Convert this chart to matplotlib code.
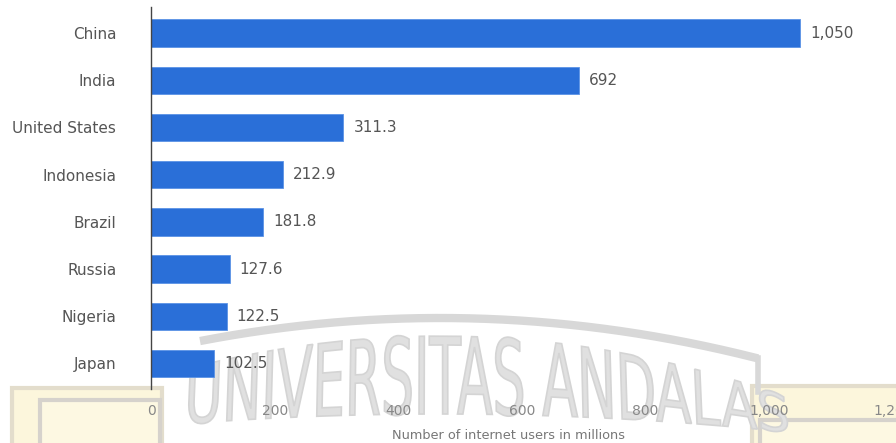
import numpy as np
import matplotlib
matplotlib.use("Agg")
import matplotlib.pyplot as plt
from matplotlib.textpath import TextPath
from matplotlib.font_manager import FontProperties
from matplotlib.patches import PathPatch, Rectangle
from matplotlib.path import Path

countries = ["China", "India", "United States", "Indonesia", "Brazil", "Russia", "Nigeria", "Japan"]
users = [1050, 692, 311.3, 212.9, 181.8, 127.6, 122.5, 102.5]
value_labels = ["1,050", "692", "311.3", "212.9", "181.8", "127.6", "122.5", "102.5"]
xticks = [0, 200, 400, 600, 800, 1000, 1200]
xtick_labels = ["0", "200", "400", "600", "800", "1,000", "1,200"]
xlabel = "Number of internet users in millions"
watermark = "UNIVERSITAS ANDALAS"

W, H = 896, 443
fig = plt.figure(figsize=(W / 100, H / 100), dpi=100)
fig.patch.set_facecolor("white")

def px(x, y):
    return x / W, 1 - y / H

# ---- watermark (behind axes) ----
for (x0, y0, w, h, fc, ec, lw) in [
    (12, 388, 150, 60, "#fcf6dc", "#e3ddcc", 3),
    (40, 400, 120, 50, "#fdf8e2", "#d6d2cc", 3),
    (752, 386, 160, 64, "#fcf6dc", "#e3ddcc", 3),
    (760, 420, 145, 30, "#fdf8e2", "#d6d2cc", 3),
]:
    fig.patches.append(Rectangle(px(x0, y0 + h), w / W, h / H, transform=fig.transFigure,
                                 facecolor=fc, edgecolor=ec, lw=lw, zorder=0))

peak = 440.0
k_top = 5e-4
k_base = 1.5e-4
# arc band above letters
xs = np.linspace(200, 758, 200)
ys = 318 + k_top * (xs - peak) ** 2 * 0.8
fig.lines.append(plt.Line2D(xs / W, 1 - ys / H, transform=fig.transFigure,
                            color="#d8d8d8", lw=6, zorder=0.5, solid_capstyle="butt"))
fig.lines.append(plt.Line2D([758 / W, 758 / W], [1 - ys[-1] / H, 1 - 392 / H],
                            transform=fig.transFigure, color="#d8d8d8", lw=4, zorder=0.5))

# warped watermark text
tp = TextPath((0, 0), watermark, size=1, prop=FontProperties(family="DejaVu Sans"))
verts = tp.vertices.copy()
ext = tp.get_extents()
u = (verts[:, 0] - ext.x0) * (600 / ext.width) + 188
f = verts[:, 1] / 0.73
top_y = 336 + k_top * (u - peak) ** 2
base_y = 414 + k_base * (u - peak) ** 2
yy = base_y - f * (base_y - top_y)
lean = -0.05 * (u - peak) / 300 * (base_y - yy)
v = np.empty_like(verts)
v[:, 0] = (u + lean) / W
v[:, 1] = 1 - yy / H
fig.patches.append(PathPatch(Path(v, tp.codes), transform=fig.transFigure,
                             facecolor="#e0e0e0", edgecolor="#d4d4d4", lw=1.2, zorder=0.6))

# ---- chart ----
left = 151 / W
right = 893 / W
bottom = 1 - 387 / H
top = 1 - 9.5 / H
ax = fig.add_axes([left, bottom, right - left, top - bottom])
ax.set_facecolor("none")
ax.set_zorder(2)

y = np.arange(len(countries))
ax.barh(y, users, height=0.58, color="#2a6fd8", edgecolor="#5b93e6", lw=0.6, zorder=3)
ax.set_ylim(len(countries) - 0.5, -0.5)
ax.set_xlim(0, 1200)

for yi, val, lab in zip(y, users, value_labels):
    ax.text(val + 16, yi, lab, va="center", ha="left", fontsize=11, color="#555555",
            family="DejaVu Sans", zorder=4)

ax.set_yticks(y)
ax.set_yticklabels(countries, fontsize=11, color="#555555")
ax.tick_params(axis="y", length=0, pad=25)
ax.set_xticks(xticks)
ax.set_xticklabels(xtick_labels, fontsize=10, color="#888888")
ax.tick_params(axis="x", length=0, pad=12)
ax.set_xlabel(xlabel, fontsize=9.3, color="#777777")
ax.xaxis.set_label_coords((508 - 151) / (893 - 151), -0.112)

for s in ["top", "right", "bottom"]:
    ax.spines[s].set_visible(False)
ax.spines["left"].set_color("#444444")
ax.spines["left"].set_linewidth(1.0)
ax.spines["left"].set_bounds(len(countries) - 0.45, -0.55)
ax.spines["left"].set_zorder(5)

fig.savefig("out.png", dpi=100)
